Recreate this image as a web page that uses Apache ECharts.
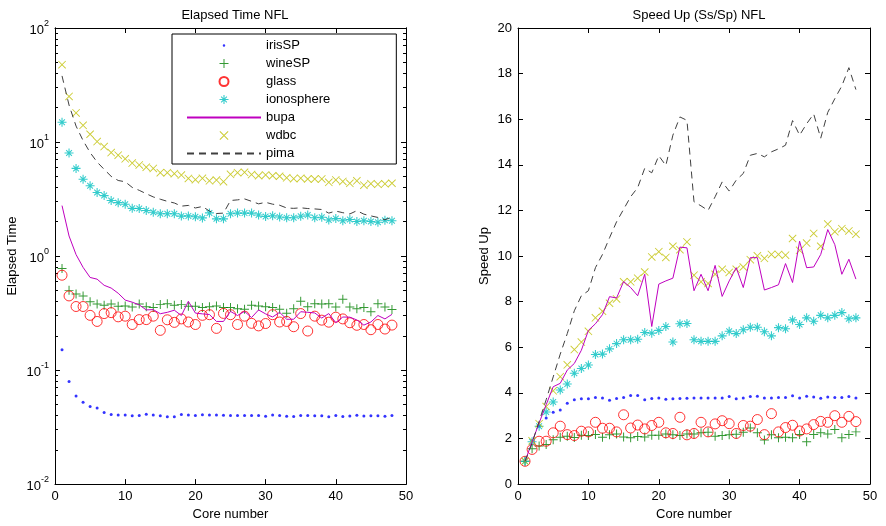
<!DOCTYPE html>
<html>
<head>
<meta charset="utf-8">
<title>Elapsed Time / Speed Up NFL</title>
<script src="https://cdn.jsdelivr.net/npm/echarts@6/dist/echarts.min.js"></script>
<style>
  html, body { margin: 0; padding: 0; background: #fff; }
  #chart { width: 886px; height: 526px; }
</style>
</head>
<body>
<div id="chart"></div>
<script>
// cores on the x axis
const cores = [1,2,3,4,5,6,7,8,9,10,11,12,13,14,15,16,17,18,19,20,21,22,23,24,
  25,26,27,28,29,30,31,32,33,34,35,36,37,38,39,40,41,42,43,44,45,46,47,48];
const xTicks = [0, 10, 20, 30, 40, 50];
const timeTicks = [0.01, 0.1, 1, 10, 100];
const timeMinorTicks = [0.02,0.03,0.04,0.05,0.06,0.07,0.08,0.09,0.2,0.3,0.4,0.5,0.6,0.7,0.8,0.9,
  2,3,4,5,6,7,8,9,20,30,40,50,60,70,80,90];
const speedTicks = [0, 2, 4, 6, 8, 10, 12, 14, 16, 18, 20];

// elapsed time (s), left plot
const irisTime = [0.151,0.0795,0.0592,0.0521,0.0479,0.0465,0.0425,0.0408,0.0404,0.0404,0.0397,0.0399,
  0.041,0.0403,0.0397,0.0389,0.0389,0.0408,0.0403,0.0399,0.0406,0.0404,0.0403,0.0402,
  0.0399,0.0399,0.0399,0.0399,0.0399,0.0393,0.0404,0.0399,0.0393,0.0392,0.0399,0.0399,
  0.0397,0.0397,0.039,0.0399,0.0392,0.0395,0.0402,0.0395,0.0397,0.0397,0.0393,0.0399];
const wineTime = [0.776,0.50,0.465,0.446,0.398,0.379,0.37,0.38,0.363,0.364,0.358,0.379,
  0.359,0.353,0.375,0.382,0.371,0.375,0.363,0.363,0.353,0.359,0.364,0.353,
  0.353,0.345,0.342,0.37,0.364,0.359,0.354,0.342,0.315,0.345,0.402,0.359,
  0.382,0.379,0.382,0.358,0.417,0.358,0.345,0.353,0.325,0.382,0.358,0.339];
const glassTime = [0.679,0.447,0.361,0.361,0.302,0.267,0.313,0.319,0.293,0.297,0.251,0.277,
  0.277,0.297,0.223,0.276,0.262,0.281,0.264,0.251,0.302,0.306,0.232,0.314,
  0.306,0.251,0.297,0.257,0.244,0.256,0.306,0.264,0.267,0.24,0.313,0.22,
  0.297,0.274,0.263,0.291,0.281,0.26,0.247,0.251,0.226,0.251,0.229,0.248];
const ionoTime = [14.9,8.0,5.87,4.72,4.14,3.61,3.39,3.07,2.94,2.85,2.62,2.61,
  2.51,2.42,2.35,2.35,2.35,2.24,2.25,2.21,2.16,2.39,2.12,2.12,
  2.35,2.38,2.38,2.38,2.29,2.22,2.26,2.2,2.17,2.17,2.23,2.29,
  2.17,2.19,2.07,2.13,2.04,2.09,2.01,2.04,2.01,1.98,2.06,2.04];
const bupaTime = [2.77,1.5,1.03,0.796,0.649,0.627,0.554,0.524,0.472,0.411,0.394,0.373,
  0.337,0.339,0.312,0.321,0.335,0.301,0.401,0.316,0.311,0.307,0.267,0.267,
  0.327,0.301,0.327,0.289,0.337,0.311,0.292,0.321,0.279,0.279,0.325,0.321,
  0.317,0.286,0.313,0.26,0.292,0.291,0.275,0.248,0.264,0.301,0.281,0.308];
const wdbcTime = [47.7,25.1,18.0,14.0,11.7,10.1,9.12,8.08,7.66,7.12,6.54,6.29,
  6.02,5.87,5.38,5.38,5.28,5.13,4.79,4.68,4.8,4.57,4.64,4.49,
  5.21,5.38,5.42,5.18,5.06,5.14,5.06,5.01,4.85,4.77,4.82,4.74,
  4.74,4.75,4.43,4.65,4.51,4.34,4.57,4.18,4.31,4.26,4.3,4.35];
const pimaTime = [38,21.1,13.8,10.3,8.09,6.67,5.76,5.0,4.6,4.48,4.0,3.77,
  3.52,3.3,3.15,3.02,2.92,2.74,2.78,2.64,2.72,2.48,2.36,2.38,
  3.07,3.11,3.17,3.02,2.87,2.96,2.85,2.79,2.64,2.62,2.65,2.61,
  2.59,2.56,2.38,2.48,2.4,2.34,2.5,2.33,2.25,2.18,2.08,2.2];

// speed up (Ss/Sp), right plot
const irisSpeed = [1,1.9,2.55,2.9,3.15,3.25,3.55,3.7,3.74,3.74,3.8,3.78,
  3.68,3.75,3.8,3.88,3.88,3.7,3.75,3.78,3.72,3.74,3.75,3.76,
  3.78,3.78,3.78,3.78,3.78,3.84,3.74,3.78,3.84,3.85,3.78,3.78,
  3.8,3.8,3.87,3.78,3.85,3.82,3.76,3.82,3.8,3.8,3.84,3.78];
const wineSpeed = [1,1.55,1.67,1.74,1.95,2.05,2.1,2.04,2.14,2.13,2.17,2.05,
  2.16,2.2,2.07,2.03,2.09,2.07,2.14,2.14,2.2,2.16,2.13,2.2,
  2.2,2.25,2.27,2.1,2.13,2.16,2.19,2.27,2.46,2.25,1.93,2.16,
  2.03,2.05,2.03,2.17,1.86,2.17,2.25,2.2,2.39,2.03,2.17,2.29];
const glassSpeed = [1,1.52,1.88,1.88,2.25,2.54,2.17,2.13,2.32,2.29,2.71,2.45,
  2.45,2.29,3.04,2.46,2.59,2.42,2.57,2.71,2.25,2.22,2.93,2.16,
  2.22,2.71,2.29,2.64,2.78,2.65,2.22,2.57,2.54,2.83,2.17,3.09,
  2.29,2.48,2.58,2.33,2.42,2.61,2.75,2.71,3.0,2.71,2.97,2.74];
const ionoSpeed = [1,1.86,2.54,3.16,3.6,4.13,4.39,4.86,5.07,5.22,5.68,5.7,
  5.93,6.16,6.33,6.33,6.35,6.65,6.62,6.74,6.91,6.23,7.03,7.04,
  6.33,6.26,6.26,6.26,6.5,6.7,6.6,6.77,6.88,6.88,6.68,6.5,
  6.86,6.81,7.2,7.0,7.29,7.14,7.4,7.29,7.4,7.52,7.25,7.29];
const bupaSpeed = [1,1.85,2.68,3.48,4.27,4.42,5.0,5.29,5.87,6.74,7.03,7.43,
  8.22,8.16,8.88,8.62,8.26,9.2,6.91,8.77,8.91,9.03,10.39,10.36,
  8.48,9.2,8.48,9.59,8.23,8.91,9.49,8.62,9.93,9.93,8.51,8.62,
  8.74,9.67,8.84,10.65,9.49,9.52,10.07,11.16,10.5,9.2,9.86,8.99];
const wdbcSpeed = [1,1.9,2.65,3.4,4.09,4.71,5.23,5.9,6.23,6.7,7.29,7.58,
  7.93,8.12,8.87,8.87,9.03,9.3,9.96,10.19,9.94,10.43,10.28,10.62,
  9.16,8.87,8.8,9.2,9.42,9.28,9.42,9.52,9.84,10.01,9.9,10.07,
  10.07,10.04,10.77,10.25,10.57,10.99,10.43,11.4,11.07,11.2,11.1,10.96];
const pimaSpeed = [1,1.8,2.75,3.7,4.7,5.7,6.6,7.6,8.26,8.48,9.49,10.07,
  10.8,11.5,12.05,12.6,13.0,13.85,13.65,14.4,13.97,15.3,16.1,15.95,
  12.38,12.2,12.0,12.6,13.25,12.85,13.33,13.62,14.42,14.5,14.35,14.57,
  14.7,14.86,15.94,15.3,15.8,16.23,15.17,16.3,16.9,17.46,18.26,17.3];

const FONT = '"Liberation Sans", Arial, Helvetica, sans-serif';

// matlab-ish markers, drawn as filled thin bars
const PLUS = 'path://M4.45,0h1.1v10h-1.1z M0,4.45h10v1.1h-10z';
const CROSS = 'path://M0,0.8L0.8,0L10,9.2L9.2,10Z M9.2,0L10,0.8L0.8,10L0,9.2Z';
const STAR = 'path://M4.4,0h1.2v10h-1.2z M0,4.4h10v1.2h-10z M1.4,2.2L2.2,1.4L8.6,7.8L7.8,8.6Z M7.8,1.4L8.6,2.2L2.2,8.6L1.4,7.8Z';
const DOT_ICON = 'path://M0,0L0.01,0L0,0.01Z M10,10L10.01,10L10,10.01Z M5,3.6A1.4,1.4 0 1 1 5,6.4A1.4,1.4 0 1 1 5,3.6Z';

const C = {
  iris: '#0000ff', wine: '#008000', glass: '#ff0000', iono: '#00bfbf',
  bupa: '#bf00bf', wdbc: '#bfbf00', pima: '#404040'
};

function pts(vals) {
  return cores.map((c, i) => [c, vals[i]]);
}

function makeSeries(gi, d) {
  const xi = gi * 2, yi = gi === 0 ? 0 : 4;
  const base = { xAxisIndex: xi, yAxisIndex: yi, silent: true, animation: false };
  return [
    Object.assign({ name: 'irisSP', type: 'scatter', symbol: 'circle', symbolSize: 3,
      itemStyle: { color: C.iris }, data: pts(d[0]) }, base),
    Object.assign({ name: 'wineSP', type: 'scatter', symbol: PLUS, symbolSize: 9,
      itemStyle: { color: C.wine }, data: pts(d[1]) }, base),
    Object.assign({ name: 'glass', type: 'scatter', symbol: 'circle', symbolSize: 10,
      itemStyle: { color: 'transparent', borderColor: C.glass, borderWidth: 1 }, data: pts(d[2]) }, base),
    Object.assign({ name: 'ionosphere', type: 'scatter', symbol: STAR, symbolSize: 9,
      itemStyle: { color: C.iono }, data: pts(d[3]) }, base),
    Object.assign({ name: 'bupa', type: 'line', symbol: 'none',
      lineStyle: { color: C.bupa, width: 1 }, itemStyle: { color: C.bupa }, data: pts(d[4]) }, base),
    Object.assign({ name: 'wdbc', type: 'scatter', symbol: CROSS, symbolSize: 8,
      itemStyle: { color: C.wdbc }, data: pts(d[5]) }, base),
    Object.assign({ name: 'pima', type: 'line', symbol: 'none',
      lineStyle: { color: C.pima, width: 1, type: [7, 5] }, itemStyle: { color: C.pima }, data: pts(d[6]) }, base)
  ];
}

const axisLine = { show: true, onZero: false, lineStyle: { color: '#000', width: 1 } };
const tickMajor = { show: true, inside: true, length: 5, lineStyle: { color: '#000' } };
const tickMinor = { show: true, inside: true, length: 3, customValues: timeMinorTicks, lineStyle: { color: '#000' } };
const labelStyle = { color: '#000', fontSize: 13, fontFamily: FONT };

function xAxes(gi) {
  const common = { type: 'value', gridIndex: gi, min: xTicks[0], max: xTicks[xTicks.length - 1],
    interval: xTicks[1] - xTicks[0], splitLine: { show: false }, axisLine: axisLine, axisTick: tickMajor };
  return [
    Object.assign({ position: 'bottom', name: 'Core number', nameLocation: 'middle', nameGap: 23,
      nameTextStyle: labelStyle, axisLabel: Object.assign({ margin: 6 }, labelStyle) }, common),
    Object.assign({ position: 'top', axisLabel: { show: false } }, common)
  ];
}

function expLabel(v) {
  const e = Math.round(Math.log10(v));
  return '{b|10}{s|' + e + '}';
}

const logCommon = { type: 'log', logBase: 10, gridIndex: 0, min: timeTicks[0],
  max: timeTicks[timeTicks.length - 1], splitLine: { show: false }, axisLine: axisLine };

const hideLegendSymbol = { opacity: 0 };

const option = {
  animation: false,
  backgroundColor: '#fff',
  textStyle: { fontFamily: FONT },
  title: [
    { text: 'Elapsed Time NFL', left: 230, top: 4, textAlign: 'center',
      textStyle: { fontSize: 13, fontWeight: 'normal', color: '#000', fontFamily: FONT } },
    { text: 'Speed Up (Ss/Sp) NFL', left: 694, top: 4, textAlign: 'center',
      textStyle: { fontSize: 13, fontWeight: 'normal', color: '#000', fontFamily: FONT } }
  ],
  legend: {
    orient: 'vertical', left: 172, top: 34,
    padding: [5, 66, 4, 14], itemGap: 5, itemWidth: 74, itemHeight: 9,
    backgroundColor: '#fff', borderColor: '#000', borderWidth: 1, borderRadius: 0,
    selectedMode: false,
    textStyle: { color: '#000', fontSize: 13, fontFamily: FONT },
    data: [
      { name: 'irisSP', icon: DOT_ICON },
      'wineSP', 'glass', 'ionosphere',
      { name: 'bupa', itemStyle: hideLegendSymbol },
      'wdbc',
      { name: 'pima', itemStyle: hideLegendSymbol }
    ]
  },
  grid: [
    { left: 55, top: 28, width: 351, height: 460 },
    { left: 518, top: 28, width: 352, height: 460 }
  ],
  xAxis: xAxes(0).concat(xAxes(1)),
  yAxis: [
    Object.assign({ position: 'left', name: 'Elapsed Time', nameLocation: 'middle', nameGap: 36,
      nameTextStyle: labelStyle, axisTick: tickMajor,
      axisLabel: { margin: 6, formatter: expLabel,
        rich: { b: { fontSize: 13, fontFamily: FONT, color: '#000', lineHeight: 18, verticalAlign: 'bottom' },
                s: { fontSize: 9, fontFamily: FONT, color: '#000', lineHeight: 18, verticalAlign: 'top' } } } }, logCommon),
    Object.assign({ position: 'right', axisTick: tickMajor, axisLabel: { show: false } }, logCommon),
    Object.assign({ position: 'left', axisLabel: { show: false }, axisTick: tickMinor }, logCommon),
    Object.assign({ position: 'right', axisLabel: { show: false }, axisTick: tickMinor }, logCommon),
    { type: 'value', gridIndex: 1, position: 'left', min: speedTicks[0], max: speedTicks[speedTicks.length - 1],
      interval: speedTicks[1] - speedTicks[0], splitLine: { show: false }, axisLine: axisLine, axisTick: tickMajor,
      name: 'Speed Up', nameLocation: 'middle', nameGap: 27, nameTextStyle: labelStyle,
      axisLabel: Object.assign({ margin: 6 }, labelStyle) },
    { type: 'value', gridIndex: 1, position: 'right', min: speedTicks[0], max: speedTicks[speedTicks.length - 1],
      interval: speedTicks[1] - speedTicks[0], splitLine: { show: false }, axisLine: axisLine, axisTick: tickMajor,
      axisLabel: { show: false } }
  ],
  series: makeSeries(0, [irisTime, wineTime, glassTime, ionoTime, bupaTime, wdbcTime, pimaTime])
    .concat(makeSeries(1, [irisSpeed, wineSpeed, glassSpeed, ionoSpeed, bupaSpeed, wdbcSpeed, pimaSpeed]))
};

const chart = echarts.init(document.getElementById('chart'), null, { renderer: 'canvas' });
chart.setOption(option);
</script>
</body>
</html>
